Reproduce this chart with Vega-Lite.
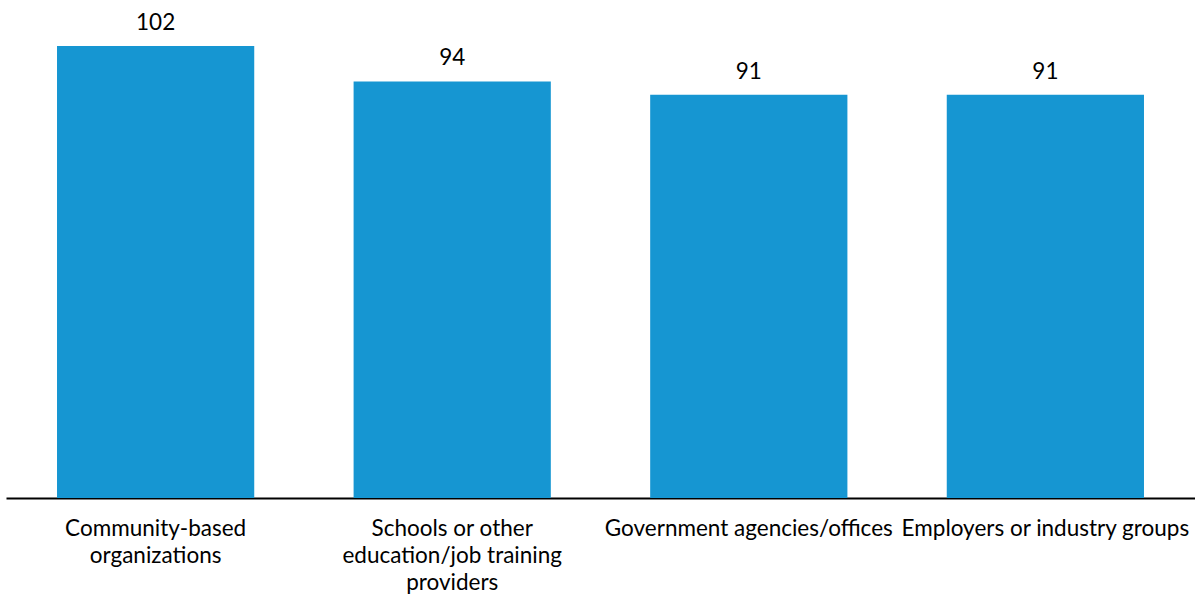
{
  "$schema": "https://vega.github.io/schema/vega-lite/v6.json",
  "width": 1189,
  "height": 452,
  "autosize": {"type": "none"},
  "padding": {"left": 6, "top": 46, "right": 0, "bottom": 96},
  "background": "white",
  "config": {"view": {"stroke": null}, "font": "Lato"},
  "data": {
    "values": [
      {"category": "Community-based organizations", "count": 102},
      {"category": "Schools or other education/job training providers", "count": 94},
      {"category": "Government agencies/offices", "count": 91},
      {"category": "Employers or industry groups", "count": 91}
    ]
  },
  "encoding": {
    "x": {
      "field": "category",
      "type": "nominal",
      "sort": null,
      "scale": {"paddingInner": 0.335, "paddingOuter": 0.172},
      "axis": {
        "title": null,
        "labelAngle": 0,
        "labelFont": "Lato",
        "labelFontSize": 22.5,
        "labelColor": "#000000",
        "labelPadding": 19,
        "labelLineHeight": 27,
        "labelLimit": 400,
        "ticks": false,
        "domainColor": "#000000",
        "domainWidth": 2,
        "labelExpr": "datum.value == 'Community-based organizations' ? ['Community-based', 'organizations'] : datum.value == 'Schools or other education/job training providers' ? ['Schools or other', 'education/job training', 'providers'] : datum.value"
      }
    },
    "y": {
      "field": "count",
      "type": "quantitative",
      "scale": {"domain": [0, 102], "nice": false},
      "axis": null
    }
  },
  "layer": [
    {"mark": {"type": "bar", "color": "#1696d2"}},
    {
      "mark": {"type": "text", "baseline": "bottom", "dy": -11, "font": "Lato", "fontSize": 22.5, "color": "#000000"},
      "encoding": {"text": {"field": "count", "type": "quantitative"}}
    }
  ]
}
